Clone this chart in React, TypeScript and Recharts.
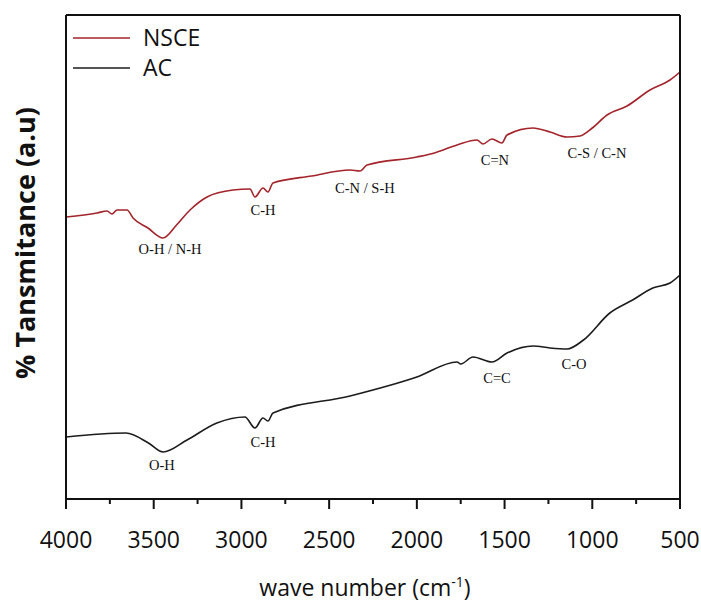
import { LineChart, Line, XAxis, YAxis, ReferenceDot } from "recharts";

// FTIR spectra, wavenumber (cm-1) vs. transmittance (arbitrary offset units)
const nsceWave = [
  4000, 3823, 3766, 3738, 3709, 3652, 3618, 3533, 3447, 3370, 3293, 3196,
  3048, 2951, 2923, 2877, 2849, 2820, 2600, 2381, 2324, 2284, 2000, 1900,
  1771, 1657, 1623, 1572, 1515, 1486, 1338, 1241, 1144, 1070, 1000, 916, 802,
  671, 557, 500,
];
const nsceT = [
  282, 286, 288, 285, 289, 289, 281, 271, 261, 274, 289, 302, 309, 310, 302,
  311, 307, 316, 323, 329, 328, 334, 342, 346, 354, 359, 355, 360, 356, 364,
  371, 367, 362, 363, 371, 384, 393, 409, 419, 427,
];

const acWave = [
  4000, 3658, 3530, 3447, 3310, 3140, 2980, 2923, 2877, 2849, 2820, 2381,
  2000, 1771, 1750, 1680, 1572, 1486, 1338, 1241, 1144, 1050, 900, 770, 655,
  557, 500,
];
const acT = [
  62, 66, 56, 47, 59, 76, 82, 71, 81, 78, 86, 103, 122, 137, 135, 142, 137,
  146, 153, 151, 150, 159, 186, 199, 211, 216, 224,
];

const xTicks = [
  4000, 3750, 3500, 3250, 3000, 2750, 2500, 2250, 2000, 1750, 1500, 1250,
  1000, 750, 500,
];

// band assignments, placed at [wavenumber, transmittance]
const nsceBands = [
  { label: "O-H / N-H", wave: 3407, t: 250 },
  { label: "C-H", wave: 2877, t: 289 },
  { label: "C-N / S-H", wave: 2296, t: 311 },
  { label: "C=N", wave: 1555, t: 339 },
  { label: "C-S / C-N", wave: 973, t: 346 },
];
const acBands = [
  { label: "O-H", wave: 3453, t: 34 },
  { label: "C-H", wave: 2877, t: 57 },
  { label: "C=C", wave: 1543, t: 121 },
  { label: "C-O", wave: 1104, t: 135 },
];

const legendItems = [
  { name: "NSCE", color: "#a3242b" },
  { name: "AC", color: "#1c1c1c" },
];

const NSCE_COLOR = "#a3242b";
const AC_COLOR = "#1c1c1c";
const AXIS_COLOR = "#111";
const TICK_SIZE = 10;
const TICK_MARGIN = 23;
const SANS = "'Open Sans', 'Noto Sans', sans-serif";

const toPoints = (wave: number[], t: number[]) =>
  wave.map((w, i) => ({ wave: w, t: t[i] }));

const nsceData = toPoints(nsceWave, nsceT);
const acData = toPoints(acWave, acT);
const bands = [...nsceBands, ...acBands];

const WaveTick = (props: any) => {
  const { x, y, payload } = props;
  const major = payload.value % 500 === 0;
  const top = y - TICK_MARGIN - TICK_SIZE;
  return (
    <g>
      <line
        x1={x}
        x2={x}
        y1={top}
        y2={top + (major ? TICK_SIZE : 5)}
        stroke={AXIS_COLOR}
        strokeWidth={2}
      />
      {major && (
        <text
          x={x}
          y={y}
          dy="0.71em"
          textAnchor="middle"
          fontFamily={SANS}
          fontSize={23}
          fill="#111"
        >
          {payload.value}
        </text>
      )}
    </g>
  );
};

export default function App() {
  return (
    <div
      style={{
        position: "absolute",
        left: 0,
        top: 0,
        width: 701,
        height: 602,
        background: "#fff",
      }}
    >
      <LineChart
        width={701}
        height={602}
        margin={{ top: 14, right: 20, bottom: 23, left: 65 }}
      >
        <XAxis
          dataKey="wave"
          type="number"
          domain={[500, 4000]}
          reversed
          ticks={xTicks}
          interval={0}
          height={80}
          tickSize={TICK_SIZE}
          tickMargin={TICK_MARGIN}
          tickLine={false}
          tick={<WaveTick />}
          axisLine={{ stroke: AXIS_COLOR, strokeWidth: 2 }}
          allowDataOverflow
        />
        <XAxis
          xAxisId="top"
          dataKey="wave"
          type="number"
          domain={[500, 4000]}
          reversed
          orientation="top"
          height={1}
          tick={false}
          tickLine={false}
          axisLine={{ stroke: AXIS_COLOR, strokeWidth: 2 }}
        />
        <YAxis
          type="number"
          domain={[0, 484]}
          width={1}
          tick={false}
          tickLine={false}
          axisLine={{ stroke: AXIS_COLOR, strokeWidth: 2 }}
          label={{
            value: "% Tansmitance (a.u)",
            angle: -90,
            position: "center",
            dx: -40,
            dy: -14,
            style: {
              fontFamily: SANS,
              fontSize: 27,
              fontWeight: 700,
              fill: "#111",
              textAnchor: "middle",
            },
          }}
        />
        <YAxis
          yAxisId="right"
          orientation="right"
          type="number"
          domain={[0, 484]}
          width={1}
          tick={false}
          tickLine={false}
          axisLine={{ stroke: AXIS_COLOR, strokeWidth: 2 }}
        />
        <Line
          data={nsceData}
          dataKey="t"
          name="NSCE"
          type="monotone"
          stroke={NSCE_COLOR}
          strokeWidth={1.6}
          dot={false}
          isAnimationActive={false}
        />
        <Line
          data={acData}
          dataKey="t"
          name="AC"
          type="monotone"
          stroke={AC_COLOR}
          strokeWidth={1.6}
          dot={false}
          isAnimationActive={false}
        />
        {bands.map((b, i) => (
          <ReferenceDot
            key={i}
            x={b.wave}
            y={b.t}
            r={0}
            fill="none"
            stroke="none"
            label={{
              value: b.label,
              position: "center",
              style: {
                fontFamily: "'Liberation Serif', 'Times New Roman', serif",
                fontSize: 14.5,
                fill: "#111",
              },
            }}
          />
        ))}
        {/* series key, top-left inside the frame */}
        <g>
          {legendItems.map((item, i) => (
            <g key={item.name}>
              <line
                x1={73}
                x2={130}
                y1={38 + i * 30}
                y2={38 + i * 30}
                stroke={item.color}
                strokeWidth={1.5}
              />
              <text
                x={143}
                y={38 + i * 30}
                dy="0.36em"
                fontFamily={SANS}
                fontSize={23}
                fill="#111"
              >
                {item.name}
              </text>
            </g>
          ))}
        </g>
        <text
          x={365}
          y={596}
          textAnchor="middle"
          fontFamily={SANS}
          fontSize={23}
          fill="#111"
        >
          wave number (cm
          <tspan dy={-9} fontSize={14}>
            -1
          </tspan>
          <tspan dy={9}>)</tspan>
        </text>
      </LineChart>
    </div>
  );
}
